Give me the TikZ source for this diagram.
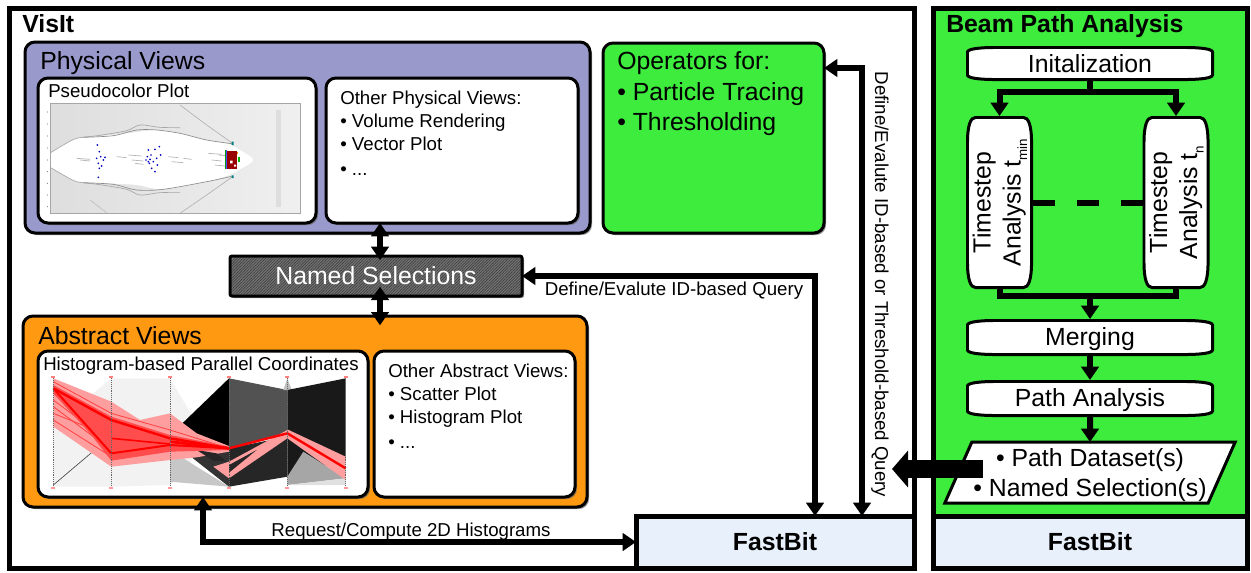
\documentclass[tikz,border=0pt]{standalone}
\usepackage{graphicx}
\usepackage{fontspec}
\setmainfont{Liberation Sans}
\usetikzlibrary{arrows.meta}
\usetikzlibrary{calc}
\usetikzlibrary{shapes.geometric}
\usetikzlibrary{shadows}
\usetikzlibrary{patterns.meta}
\newcommand{\bigfont}{\fontsize{18.6}{22.5}\selectfont}
\newcommand{\smallfont}{\fontsize{14}{17.25}\selectfont}
\newcommand{\barrelpath}[2]{%
  \draw[line width=2.25pt, fill=white]
    let \p1=([shift={(-1.1pt,-1.1pt)}]path picture bounding box.north east),
        \p2=([shift={(1.1pt,1.1pt)}]path picture bounding box.south west) in
    (\x2,\y1-#2) .. controls (\x2,\y1-0.3*#2) and (\x2+0.4*#1,\y1) .. (\x2+#1,\y1)
    -- (\x1-#1,\y1) .. controls (\x1-0.4*#1,\y1) and (\x1,\y1-0.3*#2) .. (\x1,\y1-#2)
    -- (\x1,\y2+#2) .. controls (\x1,\y2+0.3*#2) and (\x1-0.4*#1,\y2) .. (\x1-#1,\y2)
    -- (\x2+#1,\y2) .. controls (\x2+0.4*#1,\y2) and (\x2,\y2+0.3*#2) .. (\x2,\y2+#2) -- cycle;}
\definecolor{physblue}{HTML}{9999CC}
\definecolor{absorange}{HTML}{FF9912}
\definecolor{beamgreen}{HTML}{3DEC3D}
\definecolor{fastblue}{HTML}{E8F1FB}
\tikzstyle{frame} = [rectangle, draw=black, line width=3.75pt, outer sep=0pt]
\tikzstyle{panel} = [rectangle, rounded corners=7.5pt, draw=black, line width=2.25pt, outer sep=0pt, drop shadow={shadow xshift=1.5pt, shadow yshift=-1.5pt, fill=black!60, opacity=0.7}]
\tikzstyle{hatchbox} = [rectangle, rounded corners=1.5pt, draw=black, line width=2.25pt, outer sep=0pt, text=white, font=\bigfont, preaction={fill=black!42}, pattern={Lines[angle=45,distance=1.5pt,line width=0.5pt]}, pattern color=black!75, drop shadow={shadow xshift=1.5pt, shadow yshift=-1.5pt, fill=black!60, opacity=0.7}]
\tikzstyle{hstep} = [rectangle, outer sep=0pt, inner sep=0pt, font=\bigfont, text height=13pt, text depth=0.5pt, path picture={\barrelpath{22pt}{3.5pt}}]
\tikzstyle{vstep} = [rectangle, outer sep=0pt, inner sep=0pt, font=\bigfont, path picture={\barrelpath{6pt}{19pt}}]
\tikzstyle{biglabel} = [inner sep=0pt, font=\bigfont, align=left]
\tikzstyle{smalllabel} = [inner sep=0pt, font=\smallfont, align=left]
\tikzstyle{arrow} = [line width=4.5pt, -{Triangle[length=10pt,width=13pt]}]
\tikzstyle{both} = [line width=4.5pt, {Triangle[length=10pt,width=13pt]}-{Triangle[length=10pt,width=13pt]}]
\tikzstyle{bigarrow} = [line width=13.5pt, -{Triangle[length=12pt,width=27pt]}]

\begin{document}
\begin{tikzpicture}[x=0.75pt, y=-0.75pt, node distance=45.75pt]
\useasboundingbox (0,0) rectangle (1251,572);

\node [frame, minimum width=678.75pt, minimum height=420pt] (visit) at (461.5,288) {};
\node [frame, fill=beamgreen, minimum width=235.5pt, minimum height=381pt] (beam) at (1090,262) {};
\node [frame, fill=fastblue, font=\bigfont\bfseries, minimum width=208.5pt, minimum height=39pt] (fastbit_left) at (775,542) {FastBit};
\node [frame, fill=fastblue, font=\bigfont\bfseries, minimum width=235.5pt, minimum height=39pt] (fastbit_right) at (1090,542) {FastBit};
\node [biglabel, anchor=base west, font=\bigfont\bfseries] (visit_title) at (22,32) {VisIt};
\node [biglabel, anchor=base west, font=\bigfont\bfseries] (beam_title) at (946,32) {Beam Path Analysis};

\node [panel, fill=physblue, minimum width=423.75pt, minimum height=143.25pt] (physical) at (307.5,137.5) {};
\node [biglabel, anchor=base west] (physical_title) at (40,69) {Physical Views};
\node [panel, fill=white, minimum width=208.5pt, minimum height=108.75pt] (pseudo) at (177,150.5) {};
\node [panel, fill=white, right of=pseudo, node distance=206.25pt, minimum width=189pt, minimum height=108.75pt] (other_physical) {};
\node [smalllabel, anchor=base west] (pseudo_title) at (48,97) {Pseudocolor Plot};
\node [smalllabel, anchor=north west] (other_physical_text) at (340,91) {Other Physical Views:\\\textbullet{} Volume Rendering\\\textbullet{} Vector Plot\\[1.5pt]\textbullet{} ...};

\begin{scope}[shift={(40,100)}, x=0.25pt, y=-0.25pt]
\shade [left color=black!13, right color=black!6] (32,10) rectangle (782,340);
\fill [black!13] (708,30) rectangle (724,320);
\fill [white] plot [smooth] coordinates {(32,158) (70,135) (110,115) (180,108) (260,100) (350,90) (420,100) (500,120) (560,130) (600,150) (640,180) (600,208) (560,228) (500,245) (370,268) (290,255) (200,250) (110,245) (70,225) (32,203)} -- cycle;
\draw [black!35, line width=0.5pt] plot [smooth] coordinates {(32,158) (70,135) (110,115) (180,106) (260,92) (300,75) (360,82) (420,83)};
\draw [black!45, line width=0.5pt] plot [smooth] coordinates {(130,112) (220,107) (290,90) (350,90) (420,100) (500,120) (575,131)};
\draw [black!30, line width=0.5pt] (420,15) -- (500,75) -- (575,128);
\draw [black!35, line width=0.5pt] plot [smooth] coordinates {(32,203) (70,225) (110,245) (180,254) (260,268) (300,285) (360,278) (420,277)};
\draw [black!45, line width=0.5pt] plot [smooth] coordinates {(130,248) (220,253) (290,270) (370,268) (500,245) (575,229)};
\draw [black!30, line width=0.5pt] (420,340) -- (500,285) -- (575,232);
\draw [black!25, line width=0.5pt] (150,300) -- (200,338);
\foreach \wx/\wy/\wl in {110/175/40, 120/180/30, 230/170/30, 265/165/40, 275/180/35, 285/190/25, 385/170/30, 395/185/35, 430/175/25, 505/160/40, 515/180/30, 525/195/30, 535/165/35} {
  \draw [black!30, line width=0.5pt] (\wx,\wy) -- ++(\wl,3);
}
\foreach \dx/\dy in {172/135, 178/155, 170/175, 182/170, 190/180, 175/190, 185/198, 178/205, 195/172, 175/232, 325/150, 345/148, 358/140, 322/170, 330/178, 340/185, 350/175, 362/165, 335/205, 352/195, 345/215, 328/190, 318/180, 325/185, 333/165} {
  \fill [blue!75!black] (\dx,\dy) circle (0.7pt);
}
\fill [red!60!black] (562,152) rectangle (590,206);
\fill [green!60!black] (555,150) rectangle (559,208);
\fill [blue!70] (559,150) rectangle (562,208);
\fill [white] (570,182) rectangle (578,190) (582,194) rectangle (588,200);
\fill [green!70!black] (595,170) rectangle (600,186);
\fill [orange] (590,155) rectangle (594,162);
\fill [teal] (575,125) rectangle (581,135) (575,226) rectangle (581,234);
\draw [black!35, line width=0.4pt] (32,10) rectangle (782,340);
\foreach \ty in {36,72,108,144,180,215,250,285,320} {
  \fill [black!60] (22,\ty) circle (0.4pt);
}
\end{scope}

\node [hatchbox, minimum width=219pt, minimum height=30pt] (named) at (376,276) {Named Selections};

\node [panel, fill=absorange, minimum width=423pt, minimum height=143.25pt] (abstract) at (305,411.5) {};
\node [biglabel, anchor=base west] (abstract_title) at (38,344) {Abstract Views};
\node [panel, fill=white, minimum width=247.5pt, minimum height=109.5pt] (hist) at (203,424) {};
\node [panel, fill=white, right of=hist, node distance=203.625pt, minimum width=150.75pt, minimum height=109.5pt] (other_abstract) {};
\node [smalllabel, anchor=base west] (hist_title) at (43,370) {Histogram-based Parallel Coordinates};
\node [smalllabel, anchor=north west] (other_abstract_text) at (388,364) {Other Abstract Views:\\\textbullet{} Scatter Plot\\\textbullet{} Histogram Plot\\[1.5pt]\textbullet{} ...};

\begin{scope}[shift={(40,370)}, x=0.25pt, y=-0.25pt]
\fill [black!5] (40,170) -- (214,25) -- (390,25) -- (470,160) -- (450,300) -- (390,345) -- (214,350) -- (40,350) -- cycle;
\fill [black!22] (390,240) -- (470,290) -- (567,350) -- (390,335) -- cycle;
\fill [black!80] (440,250) -- (567,230) -- (567,350) -- cycle;
\fill [black] (427,160) -- (567,25) -- (567,240) -- (470,215) -- cycle;
\fill [black!68] (567,25) -- (742,60) -- (742,190) -- (567,235) -- cycle;
\fill [black!85] (567,235) -- (742,200) -- (742,320) -- (567,350) -- cycle;
\fill [black!25] (730,60) -- (742,25) -- (755,60) -- cycle;
\fill [black!90] (742,60) -- (917,25) -- (917,270) -- (742,320) -- cycle;
\fill [black!35] (742,320) -- (790,245) -- (917,325) -- (742,345) -- cycle;
\fill [black!12] (742,345) -- (917,325) -- (917,345) -- cycle;
\draw [black!70, line width=0.5pt] (40,345) -- (170,235);
\fill [red!38] (40,25) -- (214,95) -- (300,150) -- (390,130) -- (470,190) -- (567,228) -- (567,245) -- (470,262) -- (390,270) -- (214,290) -- (40,170) -- cycle;
\fill [red!38] (567,275) -- (742,180) -- (742,205) -- (567,325) -- (520,290) -- cycle;
\fill [black!85] (567,285) -- (650,240) -- (567,308) -- cycle;
\fill [black!85] (470,240) -- (530,250) -- (560,275) -- (520,272) -- cycle;
\fill [red!38] (742,178) -- (917,260) -- (917,330) -- (742,205) -- cycle;
\foreach \ya/\yb/\yc in {35/130/180, 50/170/200, 70/190/215, 90/220/230, 110/240/210, 130/200/240, 150/260/225} {
  \draw [red!75, line width=0.6pt] (40,\ya) -- (214,\yb) -- (390,\yc) -- (567,235);
}
\fill [red!70] (40,45) -- (214,140) -- (390,195) -- (567,230) -- (567,240) -- (390,245) -- (214,272) -- (150,190) -- (40,70) -- cycle;
\draw [red, line width=1.8pt] (40,55) -- (214,150) -- (390,205) -- (567,235) -- (742,190) -- (917,295);
\draw [red, line width=1.5pt] (40,55) -- (214,250) -- (390,225) -- (567,235);
\draw [red, line width=1.2pt] (214,205) -- (390,222);
\draw [red, line width=2pt] (390,215) -- (567,235);
\foreach \ax in {40,214,390,567,742,917} {
  \draw [black!60, line width=0.4pt, densely dotted] (\ax,25) -- (\ax,350);
  \fill [red!50] (\ax-6,19) rectangle (\ax+6,24);
  \fill [red!40] (\ax-6,350) rectangle (\ax+6,356);
}
\end{scope}

\node [panel, fill=beamgreen, minimum width=165.75pt, minimum height=142.5pt] (operators) at (713.5,138) {};
\node [biglabel, anchor=north west] (operators_text) at (617,51) {Operators for:\\[1pt]\textbullet{} Particle Tracing\\\textbullet{} Thresholding};

\node [hstep, text height=14.5pt, minimum width=186pt, minimum height=26.25pt] (init) at (1090,63.5) {Initalization};
\node [vstep, minimum width=50.25pt, minimum height=129.75pt] (tmin) at (999.5,202.5) {\rotatebox{90}{\begin{tabular}{@{}c@{}}Timestep\\Analysis t\raisebox{-5pt}{\fontsize{10}{10}\selectfont min}\end{tabular}}};
\node [vstep, right of=tmin, node distance=132.375pt, minimum width=50.25pt, minimum height=129.75pt] (tn) {\rotatebox{90}{\begin{tabular}{@{}c@{}}Timestep\\Analysis t\raisebox{-5pt}{\fontsize{10}{10}\selectfont n}\end{tabular}}};
\node [hstep, minimum width=186pt, minimum height=27.75pt] (merging) at (1090,337.5) {Merging};
\node [hstep, below of=merging, minimum width=186pt, minimum height=27.75pt] (path_analysis) {Path Analysis};
\node [trapezium, trapezium left angle=65, trapezium right angle=115, trapezium stretches=true, draw=black, fill=white, line width=2.25pt, outer sep=0pt, inner sep=0pt, font=\bigfont, text height=28pt, text depth=15pt, minimum width=218.25pt, minimum height=45.75pt, below of=path_analysis, node distance=55.5pt] (dataset) {\begin{tabular}{@{}c@{}}\textbullet{} Path Dataset(s)\\\textbullet{} Named Selection(s)\end{tabular}};

\coordinate (split) at (1090,92);
\coordinate (merge) at (1090,296);
\coordinate (operators_in) at (824,68);
\coordinate (big_start) at (983,469);
\coordinate (big_end) at (892,469);

\draw [both] ([xshift=3pt,yshift=-3pt]named.north) -- ([xshift=3pt]named.north |- other_physical.south);
\draw [both] ([xshift=3pt,yshift=7pt]named.south) -- ([xshift=3pt,yshift=-7pt]named.south |- abstract.north);
\draw [both] ([xshift=30pt]fastbit_left.north) |- (named.east);
\draw [both] ([xshift=65.25pt]fastbit_left.north) |- (operators_in);
\draw [both] (fastbit_left.west) -| (hist.south);
\draw [line width=4.5pt] (init.south) -- (split);
\draw [arrow] (split) -| (tmin.north);
\draw [arrow] (split) -| (tn.north);
\draw [line width=4.5pt, dash pattern=on 16.5pt off 16.5pt] (tmin.east) -- (tn.west);
\draw [line width=4.5pt] (tmin.south) |- (merge) -| (tn.south);
\draw [arrow] (merge) -- (merging.north);
\draw [arrow] (merging.south) -- (path_analysis.north);
\draw [arrow] (path_analysis.south) -- (dataset.north);
\draw [bigarrow] (big_start) -- (big_end);

\node [smalllabel, anchor=base] (define_label) at (674,295) {Define/Evalute ID-based Query};
\node [smalllabel, rotate=-90] (query_label) at (880,284.5) {Define/Evalute ID-based or Threshold-based Query};
\node [smalllabel, anchor=base] (request_label) at (411,536) {Request/Compute 2D Histograms};

\end{tikzpicture}
\end{document}
